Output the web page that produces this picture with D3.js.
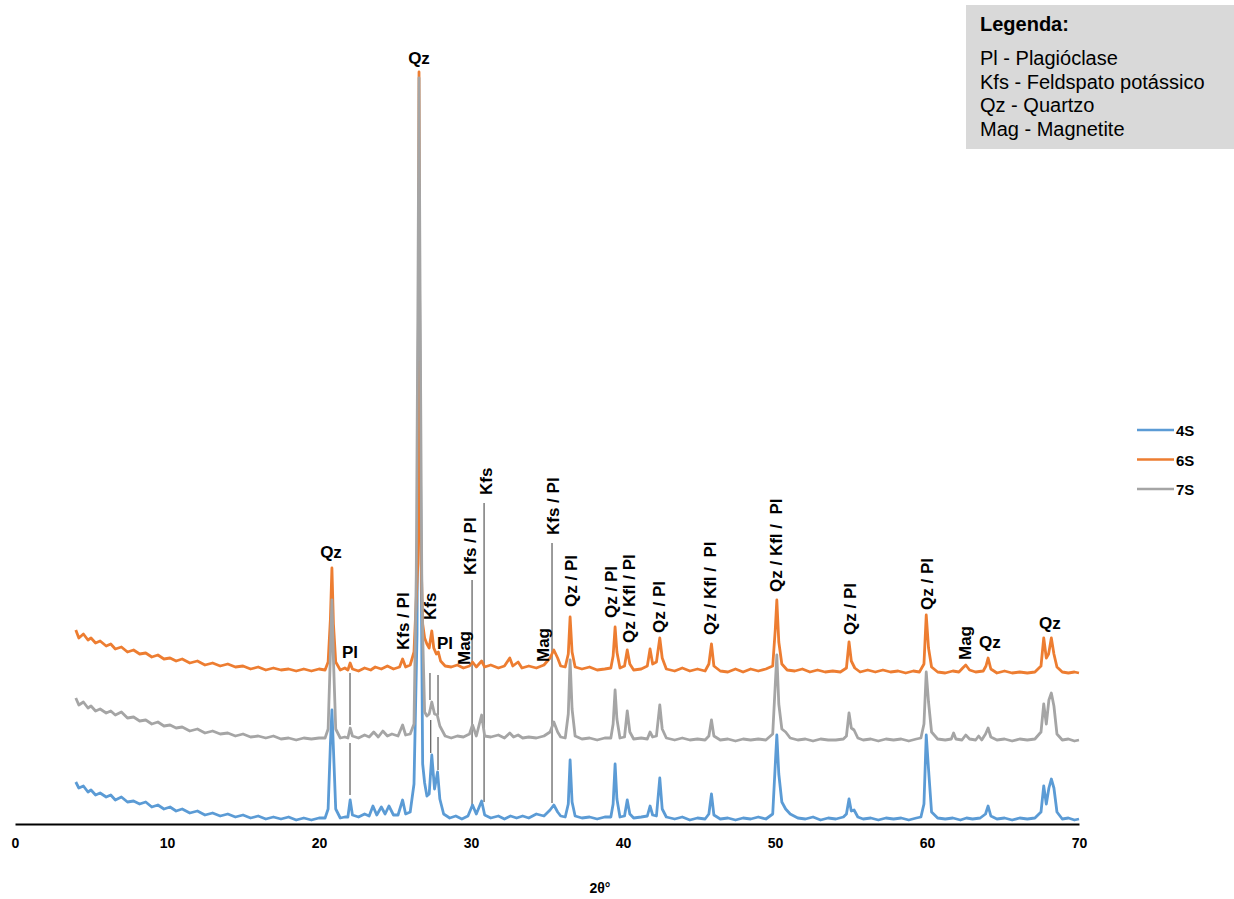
<!DOCTYPE html>
<html lang="pt">
<head>
<meta charset="UTF-8">
<title>DRX 4S / 6S / 7S</title>
<script src="https://cdnjs.cloudflare.com/ajax/libs/d3/7.8.5/d3.min.js"></script>
<style>
  body { margin: 0; background: #fff; font-family: "Liberation Sans", Arial, sans-serif; }
  svg text { white-space: pre; }
</style>
</head>
<body>
<div id="chart"></div>
<script>
// x axis ticks (2θ)
const xTicks = [0, 10, 20, 30, 40, 50, 60, 70];

// series names and colours (Excel palette)
const seriesNames = ["4S", "6S", "7S"];
const seriesColors = ["#5B9BD5", "#ED7D31", "#A5A5A5"];

// 4S - [2θ, offset intensity]
const s4S = [[4,42],[4.2,36],[4.5,38],[4.8,32],[5,34],[5.3,29],[5.6,31],[6,27],[6.3,29],[6.6,24],[7,27],[7.4,22],[7.8,23],[8.2,20],[8.6,22],[9,17],[9.4,19],[9.8,15],[10.2,17],[10.6,13],[11,15],[11.5,11],[12,13],[12.5,9],[13,11],[13.5,8],[14,10],[14.5,7],[15,9],[15.5,6],[16,8],[16.5,5],[17,7],[17.5,5],[18,7],[18.5,4],[19,6],[19.5,4],[20,6],[20.4,6],[20.6,15],[20.75,80],[20.85,114],[20.95,75],[21.1,15],[21.4,6],[21.7,7],[21.9,7],[22.05,24],[22.2,9],[22.6,7],[23,10],[23.3,8],[23.55,18],[23.8,9],[24.1,17],[24.35,10],[24.6,18],[24.9,9],[25.2,9],[25.5,24],[25.7,10],[26,12],[26.25,40],[26.45,190],[26.58,640],[26.7,300],[26.82,60],[26.95,41],[27.1,28],[27.25,30],[27.42,69],[27.6,35],[27.8,52],[27.95,25],[28.2,10],[28.6,6],[29,8],[29.4,5],[29.8,8],[30.1,19],[30.35,10],[30.7,23],[30.9,9],[31.3,6],[31.8,8],[32.2,5],[32.6,8],[33,6],[33.4,8],[33.8,6],[34.3,10],[34.8,8],[35.2,14],[35.45,19],[35.7,12],[35.9,8],[36.2,7],[36.4,20],[36.52,64],[36.65,22],[36.85,8],[37.3,6],[37.8,7],[38.3,5],[38.8,7],[39.2,7],[39.35,20],[39.48,60],[39.6,25],[39.8,7],[40.1,8],[40.28,24],[40.45,10],[40.7,6],[41.2,7],[41.6,8],[41.78,18],[41.95,9],[42.2,8],[42.42,46],[42.58,15],[42.85,7],[43.4,5],[43.9,7],[44.4,4],[44.9,6],[45.4,5],[45.65,10],[45.82,30],[45.98,9],[46.4,5],[46.9,6],[47.4,4],[47.9,6],[48.4,5],[48.9,7],[49.4,5],[49.85,10],[50.02,60],[50.12,89],[50.25,50],[50.45,22],[50.7,15],[51,10],[51.5,6],[52,5],[52.5,7],[53,4],[53.5,6],[54,5],[54.5,7],[54.7,10],[54.87,25],[55.02,13],[55.2,14],[55.45,7],[55.8,5],[56.3,6],[56.8,4],[57.3,6],[57.8,5],[58.3,6],[58.8,4],[59.3,6],[59.6,7],[59.8,20],[59.95,89],[60.1,55],[60.3,12],[60.7,6],[61.2,5],[61.7,6],[62.2,4],[62.6,6],[63,5],[63.5,6],[63.85,10],[64.02,18],[64.2,8],[64.6,5],[65.1,6],[65.6,4],[66.1,6],[66.6,5],[67.1,6],[67.5,12],[67.68,38],[67.85,20],[68.02,36],[68.18,45],[68.35,36],[68.55,12],[68.9,5],[69.3,6],[69.7,4],[70,5]];

// 6S
const s6S = [[4,194],[4.2,186],[4.5,190],[4.8,184],[5,186],[5.3,181],[5.6,183],[6,178],[6.3,180],[6.6,175],[7,177],[7.4,172],[7.8,174],[8.2,170],[8.6,171],[9,167],[9.4,169],[9.8,165],[10.2,166],[10.6,163],[11,165],[11.5,161],[12,163],[12.5,159],[13,161],[13.5,158],[14,160],[14.5,157],[15,158],[15.5,155],[16,157],[16.5,154],[17,156],[17.5,154],[18,155],[18.5,153],[19,155],[19.5,153],[20,155],[20.4,154],[20.6,162],[20.75,205],[20.85,256],[20.95,200],[21.1,162],[21.4,154],[21.7,156],[21.9,154],[22.05,161],[22.2,155],[22.6,153],[23,156],[23.4,154],[23.7,157],[24.1,155],[24.5,158],[24.9,155],[25.3,157],[25.5,165],[25.7,157],[26,159],[26.25,172],[26.5,260],[26.58,752],[26.66,300],[26.82,200],[26.95,186],[27.1,180],[27.25,176],[27.42,193],[27.55,176],[27.72,170],[27.85,172],[28,163],[28.3,158],[28.7,157],[29.1,159],[29.5,156],[29.9,158],[30.1,162],[30.35,157],[30.7,163],[30.9,157],[31.3,159],[31.8,156],[32.2,158],[32.55,166],[32.75,158],[33.1,162],[33.35,156],[33.8,158],[34.3,156],[34.8,159],[35.2,166],[35.45,174],[35.7,166],[35.9,158],[36.2,157],[36.4,170],[36.52,207],[36.65,172],[36.85,157],[37.3,155],[37.8,157],[38.3,154],[38.8,155],[39.2,156],[39.35,168],[39.48,197],[39.6,172],[39.8,156],[40.1,158],[40.28,174],[40.45,160],[40.7,154],[41.2,155],[41.6,158],[41.78,175],[41.95,160],[42.2,162],[42.42,186],[42.58,166],[42.85,155],[43.4,153],[43.9,156],[44.4,153],[44.9,155],[45.4,153],[45.65,160],[45.82,180],[45.98,158],[46.4,153],[46.9,152],[47.4,155],[47.9,152],[48.4,155],[48.9,153],[49.4,155],[49.85,158],[50.02,195],[50.12,224],[50.25,182],[50.45,160],[50.8,154],[51.3,153],[51.8,155],[52.3,152],[52.8,154],[53.3,152],[53.8,153],[54.3,152],[54.7,156],[54.87,182],[55.02,163],[55.25,156],[55.6,152],[56.1,154],[56.6,152],[57.1,154],[57.6,152],[58.1,153],[58.6,151],[59.1,153],[59.5,152],[59.8,160],[59.95,209],[60.1,176],[60.3,157],[60.7,152],[61.2,151],[61.7,153],[62.1,152],[62.35,156],[62.55,159],[62.8,154],[63.2,152],[63.7,153],[63.88,158],[64.02,166],[64.2,155],[64.6,151],[65.1,153],[65.6,151],[66.1,152],[66.6,151],[67.1,152],[67.5,158],[67.68,186],[67.85,166],[68,170],[68.18,186],[68.35,170],[68.55,157],[68.9,152],[69.3,151],[69.7,152],[70,151]];

// 7S
const s7S = [[4,126],[4.2,119],[4.5,122],[4.8,116],[5,118],[5.3,113],[5.6,115],[6,111],[6.3,113],[6.6,109],[7,112],[7.4,106],[7.8,107],[8.2,103],[8.6,104],[9,100],[9.4,102],[9.8,98],[10.2,99],[10.6,96],[11,97],[11.5,93],[12,95],[12.5,91],[13,93],[13.5,90],[14,91],[14.5,88],[15,90],[15.5,87],[16,88],[16.5,86],[17,88],[17.5,85],[18,86],[18.5,84],[19,86],[19.5,85],[20,86],[20.4,86],[20.6,95],[20.75,170],[20.85,224],[20.95,165],[21.1,95],[21.4,86],[21.7,87],[21.9,86],[22.05,96],[22.2,88],[22.6,86],[23,89],[23.3,87],[23.6,92],[23.9,87],[24.2,93],[24.5,88],[24.8,90],[25.2,88],[25.5,99],[25.7,89],[26,90],[26.25,100],[26.4,250],[26.5,500],[26.58,746],[26.66,500],[26.76,250],[26.82,190],[26.95,112],[27.1,108],[27.25,110],[27.42,122],[27.6,110],[27.78,109],[27.95,98],[28.3,88],[28.7,86],[29.1,88],[29.5,87],[29.9,90],[30.1,99],[30.35,88],[30.7,109],[30.9,88],[31.3,87],[31.8,89],[32.2,86],[32.55,91],[32.8,87],[33.1,89],[33.4,86],[33.8,87],[34.3,86],[34.8,88],[35.2,92],[35.45,102],[35.7,92],[35.9,87],[36.2,86],[36.4,110],[36.52,164],[36.65,115],[36.85,88],[37.3,85],[37.8,86],[38.3,84],[38.8,86],[39.2,86],[39.35,100],[39.48,134],[39.6,105],[39.8,86],[40.1,87],[40.28,113],[40.45,92],[40.7,85],[41.2,86],[41.6,85],[41.78,92],[41.95,87],[42.2,88],[42.42,119],[42.58,95],[42.85,86],[43.4,84],[43.9,86],[44.4,84],[44.9,85],[45.4,84],[45.65,88],[45.82,104],[45.98,88],[46.4,84],[46.9,85],[47.4,83],[47.9,85],[48.4,84],[48.9,85],[49.4,84],[49.85,90],[50.02,140],[50.12,169],[50.25,120],[50.45,95],[50.7,92],[51,86],[51.5,84],[52,85],[52.5,83],[53,85],[53.5,84],[54,84],[54.5,85],[54.7,88],[54.87,111],[55.02,96],[55.2,94],[55.45,86],[55.8,84],[56.3,85],[56.8,83],[57.3,85],[57.8,84],[58.3,85],[58.8,83],[59.3,85],[59.6,86],[59.8,100],[59.95,152],[60.1,122],[60.3,92],[60.7,85],[61.2,84],[61.6,85],[61.75,91],[61.9,85],[62.3,84],[62.55,89],[62.8,85],[63.2,84],[63.4,88],[63.6,84],[63.85,90],[64.02,96],[64.2,87],[64.6,84],[65.1,85],[65.6,83],[66.1,85],[66.6,84],[67.1,85],[67.5,92],[67.68,120],[67.85,100],[68.02,124],[68.18,131],[68.35,118],[68.55,90],[68.9,84],[69.3,85],[69.7,83],[70,84]];

// peak labels, horizontal: [text, 2θ, intensity at baseline]
const flatLabels = [["Qz",26.58,760],["Qz",20.79,266],["Pl",22.04,166],["Pl",28.29,175],["Qz",64.14,176],["Qz",68.09,195]];

// peak labels, vertical: [text, 2θ, intensity at bottom end]
const upLabels = [
  ["Kfs / Pl",25.49,174],["Kfs",27.3,204],["Mag",29.54,159],["Kfs / Pl",29.93,249],
  ["Kfs",31.0,329],["Mag",34.74,162],["Kfs / Pl",35.4,289],["Qz / Pl",36.58,217],
  ["Qz / Pl",39.2,206],["Qz / Kfl / Pl",40.4,181],["Qz / Pl",42.37,191],
  ["Qz / Kfl /  Pl",45.7,189],["Qz / Kfl /  Pl",50.07,232],["Qz / Pl",54.93,189],
  ["Qz / Pl",60.0,214],["Mag",62.5,164]
];

// leader lines: [2θ, top intensity, bottom intensity]
const leaders = [[22.04,151,99],[22.04,81,29],[27.3,151,124],[27.35,104,71],
  [27.83,149,109],[27.83,87,54],[30.07,244,19],[30.86,321,22],[35.33,281,21]];

// mineral legend
const legendTitle = "Legenda:";
const legendLines = ["Pl - Plagióclase", "Kfs - Feldspato potássico", "Qz - Quartzo", "Mag - Magnetite"];

const W = 1234, H = 899;
const font = '"Liberation Sans", Arial, sans-serif';

const svg = d3.select("#chart").append("svg")
  .attr("width", W).attr("height", H);

const x = d3.scaleLinear().domain([0, 70]).range([15, 1079]);
const y = d3.scaleLinear().domain([0, 800]).range([824, 24]);

// leader lines (under the patterns)
svg.append("g").selectAll("line").data(leaders).join("line")
  .attr("x1", d => x(d[0])).attr("x2", d => x(d[0]))
  .attr("y1", d => y(d[1])).attr("y2", d => y(d[2]))
  .attr("stroke", "#595959").attr("stroke-width", 1.2);

// patterns
const line = d3.line().x(d => x(d[0])).y(d => y(d[1]));
const allSeries = [s4S, s6S, s7S];
svg.append("g").selectAll("path").data(allSeries).join("path")
  .attr("d", line)
  .attr("fill", "none")
  .attr("stroke", (d, i) => seriesColors[i])
  .attr("stroke-width", 2.8)
  .attr("stroke-linejoin", "round");

// x axis
const xAxis = svg.append("g")
  .attr("transform", `translate(0,${y(0)})`)
  .call(d3.axisBottom(x).tickValues(xTicks).tickSize(0).tickPadding(14).tickFormat(d3.format("d")));
xAxis.select(".domain").attr("stroke", "#000").attr("stroke-width", 2);
xAxis.selectAll("text")
  .attr("font-family", font).attr("font-size", 14).attr("font-weight", "bold").attr("fill", "#000");

svg.append("text")
  .attr("x", 600).attr("y", 893)
  .attr("text-anchor", "middle")
  .attr("font-family", font).attr("font-size", 14).attr("font-weight", "bold")
  .text("2θ°");

// peak labels
svg.append("g").selectAll("text").data(flatLabels).join("text")
  .attr("x", d => x(d[1])).attr("y", d => y(d[2]))
  .attr("text-anchor", "middle")
  .attr("font-family", font).attr("font-size", 17).attr("font-weight", "bold")
  .text(d => d[0]);

svg.append("g").selectAll("text").data(upLabels).join("text")
  .attr("transform", d => `translate(${x(d[1])},${y(d[2])}) rotate(-90)`)
  .attr("dy", "0.36em")
  .attr("font-family", font).attr("font-size", 17).attr("font-weight", "bold")
  .text(d => d[0]);

// series legend
const leg = svg.append("g").attr("transform", "translate(1137,430)");
seriesNames.forEach((name, i) => {
  const g = leg.append("g").attr("transform", `translate(0,${i * 29.5})`);
  g.append("line").attr("x1", 0).attr("x2", 37).attr("y1", 0).attr("y2", 0)
    .attr("stroke", seriesColors[i]).attr("stroke-width", 2.6);
  g.append("text").attr("x", 39).attr("y", 6)
    .attr("font-family", font).attr("font-size", 15).attr("font-weight", "bold")
    .text(name);
});

// mineral legend box
svg.append("rect")
  .attr("x", 966).attr("y", 5).attr("width", 268).attr("height", 144)
  .attr("fill", "#D9D9D9");
svg.append("text")
  .attr("x", 980).attr("y", 31)
  .attr("font-family", font).attr("font-size", 20).attr("font-weight", "bold")
  .text(legendTitle);
svg.append("g").selectAll("text").data(legendLines).join("text")
  .attr("x", 980).attr("y", (d, i) => 65 + i * 23.5)
  .attr("font-family", font).attr("font-size", 20)
  .text(d => d);
</script>
</body>
</html>
